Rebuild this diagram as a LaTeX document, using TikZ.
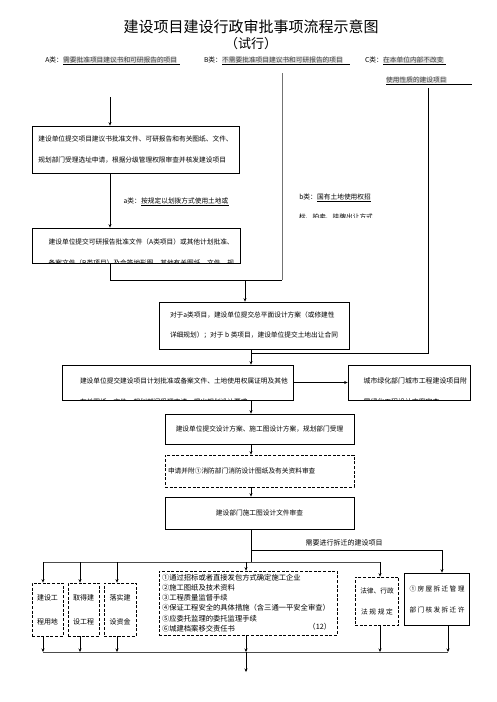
\documentclass[tikz,border=0pt]{standalone}
\usepackage{fontspec}
\setmainfont{Noto Sans CJK SC}
\usetikzlibrary{arrows.meta,positioning}

\begin{document}
\begin{tikzpicture}[x=1pt, y=-1pt,
  every node/.style={inner sep=0pt},
  box/.style={draw, line width=0.7pt, minimum height=35pt, inner xsep=5pt, align=left, font=\fontsize{6.7}{21}\selectfont},
  dbox/.style={box, dash pattern=on 3pt off 1.6pt},
  cliptxt/.style={draw=none, anchor=north west, align=left, font=\fontsize{6.7}{21}\selectfont},
  lbl/.style={font=\fontsize{6.7}{8}\selectfont},
  hlt/.style={lbl, fill=black!12, text=black!75},
  uline/.style={line width=0.6pt},
  link/.style={line width=0.7pt},
  arr/.style={link, -{Stealth[length=3.5pt,width=3pt]}}
]
\useasboundingbox (0,0) rectangle (496,702);

% title
\node[font=\fontsize{15}{18}\selectfont] (title) at (251,27) {建设项目建设行政审批事项流程示意图};
\node[font=\fontsize{13}{15}\selectfont] (subtitle) at (251,44) {（试行）};

% project classes
\node[lbl, anchor=east] (hA) at (63,60) {A类：};
\node[hlt, right=0pt of hA] (hATxt) {需要批准项目建议书和可研报告的项目};
\node[lbl, anchor=east] (hB) at (222,60) {B类：};
\node[hlt, right=0pt of hB] (hBTxt) {不需要批准项目建议书和可研报告的项目};
\node[lbl, anchor=east] (hC) at (383,60) {C类：};
\node[hlt, right=0pt of hC] (hCTxt) {在本单位内部不改变};
\node[hlt, anchor=west] (hC2) at (386,80) {使用性质的建设项目};
\draw[uline] ([yshift=-1pt]hATxt.south west) -- ++(117,0);
\draw[uline] ([yshift=-1pt]hBTxt.south west) -- ++(128,0);
\draw[uline] ([yshift=-1pt]hCTxt.south west) -- ++(63,0);
\draw[uline] ([yshift=-1pt]hC2.south west) -- ++(86,0);

% main column
\node[box, minimum width=207, minimum height=47] (bxOne) at (135.5,149.5) {建设单位提交项目建议书批准文件、可研报告和有关图纸、文件、\\规划部门受理选址申请，根据分级管理权限审查并核发建设项目};
\node[box, minimum width=208, path picture={\node[cliptxt] at ([xshift=5pt,yshift=-6.6pt]path picture bounding box.north west) {建设单位提交可研报告批准文件（A类项目）或其他计划批准、\\备案文件（B类项目）及会签地形图、其他有关图纸、文件，规};}] (bxTwo) at (136,245.5) {};
\node[box, minimum width=190, minimum height=47, font=\fontsize{6.7}{20}\selectfont] (bxThree) at (254,325.5) {对于a类项目，建设单位提交总平面设计方案（或修建性\\详细规划）；对于 b 类项目，建设单位提交土地出让合同};
\node[box, minimum width=231, path picture={\node[cliptxt] at ([xshift=6pt,yshift=-8.6pt]path picture bounding box.north west) {建设单位提交建设项目计划批准或备案文件、土地使用权属证明及其他\\有关图纸、文件，规划部门受理申请，提出规划设计要求};}] (bxFour) at (177.5,382.5) {};
\node[box, minimum width=122, path picture={\node[cliptxt, font=\fontsize{6.9}{21}\selectfont] at ([xshift=6pt,yshift=-8.6pt]path picture bounding box.north west) {城市绿化部门城市工程建设项目附\\属绿化工程设计方案审查};}] (bxGreen) at (409,382.5) {};
\node[box, minimum width=189, minimum height=30, align=center] (bxFive) at (259.5,429) {建设单位提交设计方案、施工图设计方案，规划部门受理};
\node[dbox, minimum width=189, minimum height=32, inner xsep=3pt, text width=183pt] (bxSix) at (259.5,471) {申请并附①消防部门消防设计图纸及有关资料审查};
\node[box, minimum width=189, minimum height=32, align=center] (bxSeven) at (259.5,513) {建设部门施工图设计文件审查};

% class notes
\node[lbl, anchor=east] (aLbl) at (141,201) {a类：};
\node[lbl, right=0pt of aLbl] (aTxt) {按规定以划拨方式使用土地或};
\draw[uline] ([yshift=-1pt]aTxt.south west) -- ([yshift=-1pt]aTxt.south east);
\node[lbl, anchor=east] (bLbl) at (317,197) {b类：};
\node[lbl, right=0pt of bLbl] (bTxt) {国有土地使用权招};
\draw[uline] ([yshift=-1pt]bTxt.south west) -- ([yshift=-1pt]bTxt.south east);
\begin{scope}
  \clip (290,207) rectangle (432,217.3);
  \node[lbl, anchor=west] (bTxtTwo) at (299,217) {标、拍卖、挂牌出让方式};
\end{scope}

% lower row
\node[dbox, minimum width=31, minimum height=53, align=center, font=\fontsize{7}{24}\selectfont] (sA) at (47.5,609.5) {建设工\\程用地};
\node[dbox, minimum width=31, minimum height=53, align=center, font=\fontsize{7}{24}\selectfont] (sB) at (83.5,609.5) {取得建\\设工程};
\node[dbox, minimum width=32, minimum height=53, align=center, font=\fontsize{7}{24}\selectfont] (sC) at (120,609.5) {落实建\\设资金};
\node[dbox, minimum width=178, minimum height=64, inner xsep=3pt, text width=172pt, font=\fontsize{7.3}{10.2}\selectfont] (bxBig) at (248,603) {①通过招标或者直接发包方式确定施工企业\\②施工图纸及技术资料\\③工程质量监督手续\\④保证工程安全的具体措施（含三通一平安全审查）\\⑤应委托监理的委托监理手续\\⑥城建档案移交责任书};
\node[lbl, font=\fontsize{7.3}{8}\selectfont, anchor=east] (bigNo) at ([xshift=-6pt,yshift=9pt]bxBig.south east) {（12）};
\node[dbox, minimum width=42, minimum height=48, align=center, font=\fontsize{6.7}{21}\selectfont] (bxLaw) at (377,601) {法律、行政\\{\addfontfeature{LetterSpace=25}法规规定}};
\node[box, minimum width=62, minimum height=52, align=center, font=\fontsize{6.7}{21}\selectfont\addfontfeature{LetterSpace=20}] (bxHouse) at (437,599) {①房屋拆迁管理\\部门核发拆迁许};
\node[lbl, font=\fontsize{7}{8}\selectfont] (demoLbl) at (344,543) {需要进行拆迁的建设项目};

% junctions
\coordinate (aTop) at (110,97);
\coordinate (bTop) at (282,73);
\coordinate (cTop) at (428,88);
\coordinate (jTwo) at (282,280);
\coordinate (jTwoMid) at (245,280);
\coordinate (jThree) at (251,353);
\coordinate (jDemo) at (251,550);
\coordinate (hIn) at (442,550);
\coordinate (jDist) at (251,562);
\coordinate (jOut) at (246,672);

% connectors
\draw[arr] (aTop) -- (aTop |- bxOne.north);
\draw[arr] (bxOne.south -| aTop) -- (bxTwo.north -| aTop);
\draw[link] (bxTwo.south -| aTop) |- (jTwo);
\draw[link, black!55] (bTop) -- (jTwo);
\draw[arr] (jTwoMid) -- (jTwoMid |- bxThree.north);
\draw[link] (cTop) |- (jThree);
\draw[link] (bxThree.south -| jThree) -- (jThree);
\draw[arr] (jThree) -- (bxFour.north -| jThree);
\draw[arr] (bxFour.east) -- (bxGreen.west);
\foreach \u/\v in {bxFour/bxFive, bxFive/bxSix, bxSix/bxSeven}
  \draw[arr] (\u.south -| jThree) -- (\v.north -| jThree);
\draw[link] (bxSeven.south -| jThree) -- (jDist);
\draw[arr] (jDemo) -- (hIn) -- (hIn |- bxHouse.north);
\draw[link, black!70] (43,562) -- (380,562);
\foreach \x/\n in {43/sA, 80/sB, 117/sC, 246/bxBig, 380/bxLaw}
  \draw[arr] (\x,562) -- (\x,0 |- \n.north);
\foreach \x/\n in {43/sA, 80/sB, 117/sC, 246/bxBig, 380/bxLaw, 448/bxHouse}
  \draw[arr] (\x,0 |- \n.south) -- (\x,652);
\draw[link, black!70] (43,652) -- (448,652);
\draw[arr] (jOut |- 0,652) -- (jOut);
\end{tikzpicture}
\end{document}
